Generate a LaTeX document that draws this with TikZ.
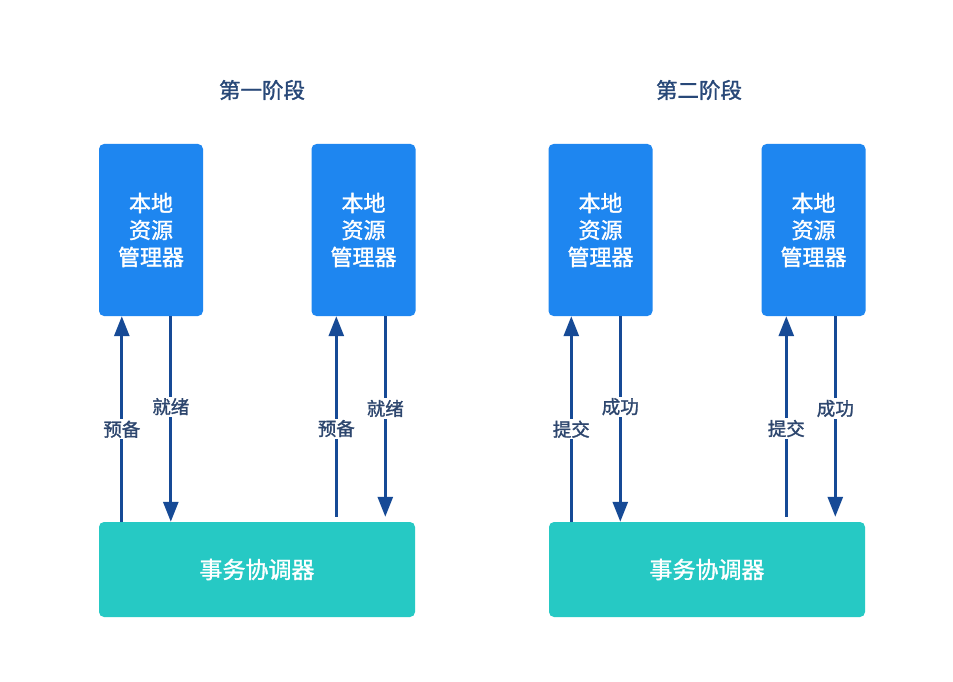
\documentclass[tikz,border=0pt]{standalone}
\usepackage{fontspec}
\setmainfont{Noto Sans CJK SC}
\newfontfamily\cjkb[FakeBold=1.4]{Noto Sans CJK SC}
\usetikzlibrary{arrows.meta,calc}
\definecolor{rmblue}{RGB}{30,134,240}
\definecolor{tcteal}{RGB}{38,201,196}
\definecolor{arrblue}{RGB}{22,74,150}
\definecolor{ttlblue}{RGB}{40,72,120}
\definecolor{lblblue}{RGB}{45,70,110}
\begin{document}
\begin{tikzpicture}[x=1pt,y=-1pt,
  rmbox/.style={draw=none,fill=rmblue,rounded corners=5pt,minimum width=104pt,minimum height=172pt,
    text=white,font=\cjkb\fontsize{22}{27}\selectfont,align=center,inner sep=0pt},
  tcbox/.style={draw=none,fill=tcteal,rounded corners=5pt,minimum width=316pt,minimum height=95pt,
    text=white,font=\cjkb\fontsize{23}{26}\selectfont,inner sep=0pt},
  ttl/.style={text=ttlblue,font=\cjkb\fontsize{21.5}{25}\selectfont,inner sep=0pt},
  arr/.style={draw=arrblue,line width=2.8pt,-{Triangle[width=15pt,length=20pt]}},
  lbl/.style={fill=white,text=lblblue,font=\cjkb\fontsize{18.5}{21}\selectfont,inner sep=1.5pt}]
\useasboundingbox (0,0) rectangle (953,682);
\fill[white] (0,0) rectangle (953,682);
% titles
\node[ttl] (t1) at (262,90) {第一阶段};
\node[ttl] (t2) at (699,90) {第二阶段};
% resource managers
\node[rmbox] (r1) at (151,230) {本地\\资源\\管理器};
\node[rmbox] (r2) at (363.5,230) {本地\\资源\\管理器};
\node[rmbox] (r3) at (600.5,230) {本地\\资源\\管理器};
\node[rmbox] (r4) at (813.5,230) {本地\\资源\\管理器};
% coordinators
\node[tcbox] (c1) at (257,569.5) {事务协调器};
\node[tcbox] (c2) at (707,569.5) {事务协调器};
% phase 1 arrows
\draw[arr] ([xshift=23]r1.south west |- c1.north) -- node[lbl,pos=0.45] (l1) {预备} ([xshift=23]r1.south west);
\draw[arr] ([xshift=72]r1.south west) -- node[lbl,pos=0.44] (l2) {就绪} ([xshift=72]r1.south west |- c1.north);
\draw[arr] ([xshift=25,yshift=5]r2.south west |- c1.north) -- node[lbl,pos=0.44] (l3) {预备} ([xshift=25]r2.south west);
\draw[arr] ([xshift=74]r2.south west) -- node[lbl,pos=0.46] (l4) {就绪} ([xshift=74,yshift=5]r2.south west |- c1.north);
% phase 2 arrows
\draw[arr] ([xshift=23]r3.south west |- c2.north) -- node[lbl,pos=0.45] (l5) {提交} ([xshift=23]r3.south west);
\draw[arr] ([xshift=72]r3.south west) -- node[lbl,pos=0.44] (l6) {成功} ([xshift=72]r3.south west |- c2.north);
\draw[arr] ([xshift=25,yshift=5]r4.south west |- c2.north) -- node[lbl,pos=0.44] (l7) {提交} ([xshift=25]r4.south west);
\draw[arr] ([xshift=74]r4.south west) -- node[lbl,pos=0.46] (l8) {成功} ([xshift=74,yshift=5]r4.south west |- c2.north);
\end{tikzpicture}
\end{document}
